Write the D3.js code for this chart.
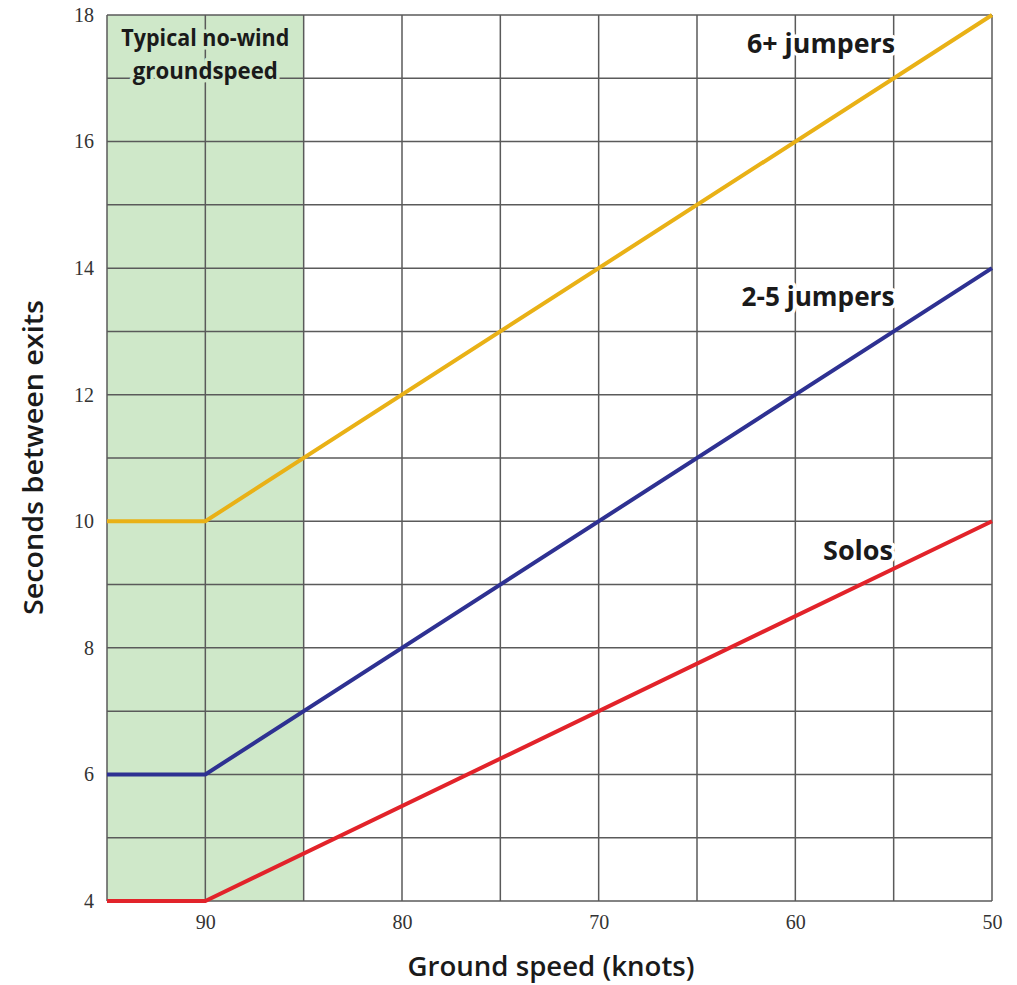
<!DOCTYPE html>
<html>
<head>
<meta charset="utf-8">
<script src="https://cdnjs.cloudflare.com/ajax/libs/d3/7.8.5/d3.min.js"></script>
<style>
  body { margin: 0; background: #fff; }
  .tick text { font-family: "Liberation Serif", "DejaVu Serif", serif; }
</style>
</head>
<body>
<script>
// ground speed in knots (x), seconds between exits (y)
const speeds = [95, 90, 50];
const sixPlus = [10, 10, 18];
const twoToFive = [6, 6, 14];
const solos = [4, 4, 10];
const xTicks = [90, 80, 70, 60, 50];
const yTicks = [4, 6, 8, 10, 12, 14, 16, 18];
const bandRange = [95, 85];

const W = 1017, H = 985;
const margin = { left: 107, right: 25, top: 15, bottom: 84 };
const FONT = '"Open Sans", sans-serif';

const svg = d3.select('body').append('svg')
  .attr('width', W)
  .attr('height', H);

const x = d3.scaleLinear().domain([95, 50]).range([margin.left, W - margin.right]);
const y = d3.scaleLinear().domain([4, 18]).range([H - margin.bottom, margin.top]);

// green band
svg.append('rect')
  .attr('x', x(bandRange[0]))
  .attr('y', y(18))
  .attr('width', x(bandRange[1]) - x(bandRange[0]))
  .attr('height', y(4) - y(18))
  .attr('fill', '#cfe8c9');

// grid
const grid = svg.append('g').attr('stroke', '#5a5a5a').attr('stroke-width', 1.5);
grid.selectAll('line.v')
  .data(d3.range(95, 49, -5))
  .join('line')
    .attr('x1', d => x(d)).attr('x2', d => x(d))
    .attr('y1', y(4)).attr('y2', y(18));
grid.selectAll('line.h')
  .data(d3.range(4, 19, 1))
  .join('line')
    .attr('y1', d => y(d)).attr('y2', d => y(d))
    .attr('x1', x(95)).attr('x2', x(50));

// axes (labels only)
const xAxis = svg.append('g')
  .attr('transform', `translate(0,${y(4)})`)
  .call(d3.axisBottom(x).tickValues(xTicks).tickSize(0).tickPadding(14));
const yAxis = svg.append('g')
  .attr('transform', `translate(${x(95)},0)`)
  .call(d3.axisLeft(y).tickValues(yTicks).tickSize(0).tickPadding(13));
[xAxis, yAxis].forEach(a => {
  a.select('.domain').remove();
  a.selectAll('text').attr('font-size', 20).attr('fill', '#333');
});

// series
const line = d3.line().x((d, i) => x(speeds[i])).y(d => y(d));
const series = [
  { values: sixPlus, color: '#e9b116' },
  { values: twoToFive, color: '#2e3192' },
  { values: solos, color: '#e2232a' }
];
svg.selectAll('path.series')
  .data(series)
  .join('path')
    .attr('d', d => line(d.values))
    .attr('fill', 'none')
    .attr('stroke', d => d.color)
    .attr('stroke-width', 4);

// labels with halos
function label(txt, cx, cy, halo, size, weight, len) {
  svg.append('text')
    .attr('x', cx).attr('y', cy)
    .attr('text-anchor', 'middle')
    .attr('font-family', FONT)
    .attr('font-weight', weight)
    .attr('font-size', size)
    .attr('fill', '#1a1a1a')
    .attr('stroke', halo).attr('stroke-width', 7)
    .attr('paint-order', 'stroke')
    .attr('stroke-linejoin', 'round')
    .attr('textLength', len)
    .attr('lengthAdjust', 'spacingAndGlyphs')
    .text(txt);
}
label('Typical no-wind', x(90), 46, '#cfe8c9', 23, 700, 168);
label('groundspeed', x(90), 79, '#cfe8c9', 23, 700, 145);
label('6+ jumpers', 821, 53, '#fff', 26, 700, 148);
label('2-5 jumpers', 818, 306, '#fff', 26, 700, 153);
label('Solos', 858, 560, '#fff', 26, 700, 70);

// axis titles
svg.append('text')
  .attr('x', 551).attr('y', 976)
  .attr('text-anchor', 'middle')
  .attr('font-family', FONT)
  .attr('font-weight', 600)
  .attr('font-size', 27)
  .attr('fill', '#1a1a1a')
  .attr('textLength', 287)
  .attr('lengthAdjust', 'spacingAndGlyphs')
  .text('Ground speed (knots)');
svg.append('text')
  .attr('transform', `translate(43,${(300 + 615) / 2}) rotate(-90)`)
  .attr('text-anchor', 'middle')
  .attr('font-family', FONT)
  .attr('font-weight', 600)
  .attr('font-size', 27)
  .attr('fill', '#1a1a1a')
  .attr('textLength', 315)
  .attr('lengthAdjust', 'spacingAndGlyphs')
  .text('Seconds between exits');
</script>
</body>
</html>
